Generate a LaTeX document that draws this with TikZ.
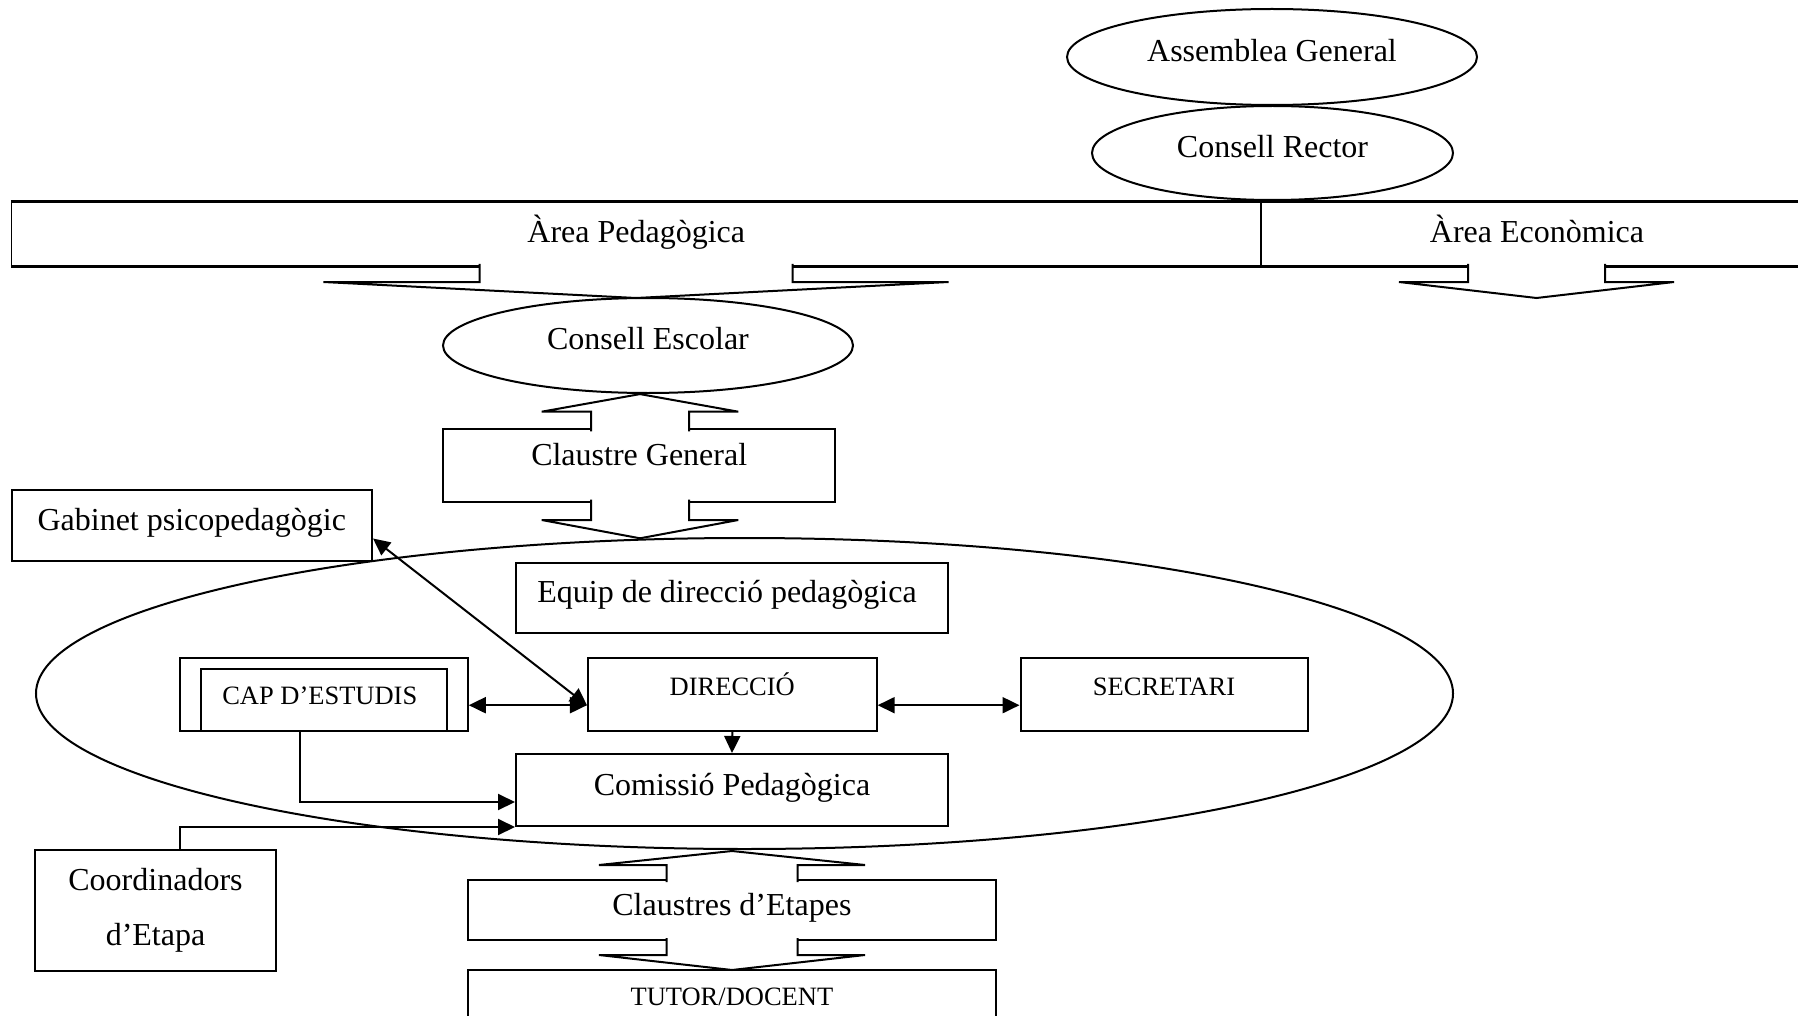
\documentclass[tikz,border=0pt]{standalone}
\usepackage{fontspec}
\setmainfont{Liberation Serif}
\usetikzlibrary{arrows.meta,calc,shapes.geometric}

% Hollow block arrow sitting on a box edge.
% #1 x of the tip, #2 y of the box edge, #3 direction (1 down, -1 up),
% #4 half shaft width, #5 shaft length, #6 half head width, #7 head length
\newcommand{\blkarrow}[7]{%
  \fill[white] ({#1-#4},{#2-2*(#3)}) -- ({#1-#4},{#2+(#3)*#5}) -- ({#1-#6},{#2+(#3)*#5})
    -- ({#1},{#2+(#3)*(#5+#7)}) -- ({#1+#6},{#2+(#3)*#5}) -- ({#1+#4},{#2+(#3)*#5})
    -- ({#1+#4},{#2-2*(#3)}) -- cycle;
  \draw[ln] ({#1-#4},{#2-2*(#3)}) -- ({#1-#4},{#2+(#3)*#5}) -- ({#1-#6},{#2+(#3)*#5})
    -- ({#1},{#2+(#3)*(#5+#7)}) -- ({#1+#6},{#2+(#3)*#5}) -- ({#1+#4},{#2+(#3)*#5})
    -- ({#1+#4},{#2-2*(#3)});
}

\tikzset{
  ln/.style={line width=2pt},
  box/.style={draw, ln, fill=white, rectangle, inner sep=0pt},
  oval/.style={draw, ln, ellipse, inner sep=0pt},
  big/.style={font=\fontsize{32}{38}\selectfont, text height=22pt, text depth=0pt},
  small/.style={font=\fontsize{26.5}{32}\selectfont, text height=18pt, text depth=0pt},
  lift/.style={text depth=#1},
  tip/.tip={Triangle[length=17pt,width=16pt]},
  link/.style={ln, tip-tip},
  feed/.style={ln, -tip},
}

\begin{document}
\begin{tikzpicture}[x=1pt, y=-1pt]
\path[use as bounding box, fill=white] (0,0) rectangle (1798,1016);

% pedagogical management ellipse
\node[oval, minimum width=1417pt, minimum height=311pt] (peda) at (744.5,693.5) {};

% governing bodies
\node[oval, big, lift=12pt, minimum width=361pt, minimum height=94pt] (rector) at (1272.5,153) {Consell Rector};
\node[oval, big, lift=12pt, minimum width=410pt, minimum height=96pt] (assem) at (1272,57) {Assemblea General};

% the two areas
\node[box, big, lift=4pt, line width=1.2pt, minimum width=1249.5pt, minimum height=64pt] (areap) at (636.25,234) {Àrea Pedagògica};
\node[box, big, lift=4pt, line width=1.2pt, minimum width=552pt, minimum height=64pt] (areae) at (1537,234) {Àrea Econòmica};
\draw[line width=3pt] (areap.north west) -- (areae.north east);
\draw[line width=3pt] (areap.south west) -- (areae.south east);

\node[oval, big, lift=14pt, minimum width=410pt, minimum height=95pt] (escolar) at (648,345.5) {Consell Escolar};
\node[box, big, lift=22pt, minimum width=391.7pt, minimum height=72.4pt] (claustre) at (639.2,465.5) {Claustre General};

\node[box, big, lift=12pt, minimum width=360.5pt, minimum height=71pt] (gab) at (191.75,525.5) {Gabinet psicopedagògic};
\node[box, big, lift=12pt, minimum width=432pt, minimum height=70.5pt] (equip) at (732,597.8) {\hspace*{-10pt}Equip de direcció pedagògica};

\node[box, minimum width=287.7pt, minimum height=73pt] (capo) at (323.9,694.2) {};
\node[box, small, lift=9pt, minimum width=245.6pt, minimum height=61.4pt] (capi) at (323.8,700) {\hspace*{-8pt}CAP D’ESTUDIS};
\node[box, small, lift=16pt, minimum width=288.7pt, minimum height=73pt] (dir) at (732.3,694.2) {DIRECCIÓ};
\node[box, small, lift=16pt, minimum width=287pt, minimum height=73pt] (sec) at (1164,694.2) {SECRETARI};
\node[box, big, lift=12pt, minimum width=432pt, minimum height=72pt] (com) at (732,790) {Comissió Pedagògica};

\node[box, font=\fontsize{32}{55}\selectfont, align=center, minimum width=241pt, minimum height=121pt] (coord) at (155.5,910.5) {Coordinadors\\d’Etapa};
\node[box, big, lift=11pt, minimum width=527.7pt, minimum height=60pt] (etapes) at (731.9,910) {Claustres d’Etapes};
\node[box, small, lift=2pt, minimum width=527.7pt, minimum height=54pt] (tutor) at (731.9,997) {TUTOR/DOCENT};

% block arrows between the levels
\blkarrow{636}{266}{1}{156.5}{16}{312.5}{16}
\blkarrow{1536.5}{266}{1}{68.5}{16}{137.5}{16}
\blkarrow{640}{429.3}{-1}{49}{17.6}{98.3}{17.6}
\blkarrow{640}{501.7}{1}{49}{18.3}{98.3}{18.3}
\blkarrow{732}{880}{-1}{65.5}{15}{133}{14}
\blkarrow{732}{940}{1}{65.5}{15}{133}{15}

% connectors
\draw[link] ($(gab.east)+(0,13)$) -- ($(dir.west)+(0,11)$);
\draw[link] ($(capo.east)+(0,11)$) -- ($(dir.west)+(0,11)$);
\draw[link] ($(dir.east)+(0,11)$) -- ($(sec.west)+(0,11)$);
\draw[feed] (dir.south) -- (com.north);
\draw[feed] ($(capo.south)+(-23.5,0)$) |- ($(com.west)+(0,12)$);
\draw[feed] ($(coord.north)+(24.5,0)$) |- (com.south west);
\end{tikzpicture}
\end{document}
